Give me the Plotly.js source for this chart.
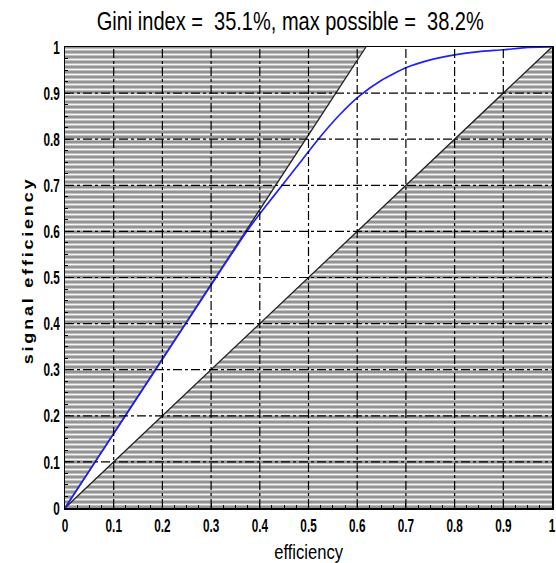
<!DOCTYPE html>
<html>
<head>
<meta charset="utf-8">
<script src="https://cdn.plot.ly/plotly-3.0.1.min.js"></script>
<style>html,body{margin:0;padding:0;background:#fff;}#chart{width:556px;height:563px;}
.ytitle{letter-spacing:2.8px;}
g.g-gtitle,g.g-xtitle,g.g-ytitle,g.xtick,g.ytick{transform-box:fill-box;}
g.g-gtitle{transform-origin:center;transform:scaleX(0.77);}
g.g-xtitle{transform-origin:center;transform:scaleX(0.83);}
g.g-ytitle{transform-origin:center;transform:translate(1px,-7px) scaleX(0.8);}
g.xtick{transform-origin:center;transform:scaleX(0.62);}
g.ytick{transform-origin:right center;transform:scaleX(0.62);}
</style>
</head>
<body>
<div id="chart"></div>
<script>
// ---- data ----
const titleText = "Gini index =  35.1%, max possible =  38.2%";
const tickVals = [0, 0.1, 0.2, 0.3, 0.4, 0.5, 0.6, 0.7, 0.8, 0.9, 1];
const tickText = ["0", "0.1", "0.2", "0.3", "0.4", "0.5", "0.6", "0.7", "0.8", "0.9", "1"];
// best possible curve region (above steep line) and random line region (below diagonal)
const upperRegionX = [0, 0.618, 0, 0];
const upperRegionY = [0, 1, 1, 0];
const lowerRegionX = [0, 1, 1, 0];
const lowerRegionY = [0, 1, 0, 0];
const maxLineX = [0, 0.618];
const maxLineY = [0, 1];
const diagX = [0, 1];
const diagY = [0, 1];
// measured curve
const curveX = [0, 0.062, 0.124, 0.186, 0.248, 0.31, 0.373, 0.41, 0.446, 0.483, 0.52, 0.563, 0.606, 0.65, 0.7, 0.75, 0.8, 0.85, 0.9, 0.95, 1];
const curveY = [0, 0.1, 0.2, 0.3, 0.4, 0.5, 0.6, 0.652, 0.7, 0.75, 0.8, 0.852, 0.895, 0.928, 0.955, 0.972, 0.983, 0.99, 0.994, 0.999, 1.0];

const hatch = {shape: '-', bgcolor: '#939393', fgcolor: '#f6f6f6', size: 5, solidity: 0.38, fillmode: 'replace'};

const traces = [
  {x: upperRegionX, y: upperRegionY, type: 'scatter', mode: 'lines', fill: 'toself',
   fillcolor: '#939393', fillpattern: hatch, line: {width: 0}, hoverinfo: 'skip', showlegend: false},
  {x: lowerRegionX, y: lowerRegionY, type: 'scatter', mode: 'lines', fill: 'toself',
   fillcolor: '#939393', fillpattern: hatch, line: {width: 0}, hoverinfo: 'skip', showlegend: false},
  {x: maxLineX, y: maxLineY, type: 'scatter', mode: 'lines', line: {color: '#222', width: 1.3}, showlegend: false},
  {x: diagX, y: diagY, type: 'scatter', mode: 'lines', line: {color: '#222', width: 1.3}, showlegend: false},
  {x: curveX, y: curveY, type: 'scatter', mode: 'lines', line: {color: '#2020ff', width: 1.7, shape: 'spline', smoothing: 0.5}, showlegend: false}
];

// grid lines drawn above the hatching
const shapes = [];
tickVals.slice(1, -1).forEach(v => {
  shapes.push({type: 'line', xref: 'x', yref: 'paper', x0: v, x1: v, y0: 0, y1: 1, layer: 'above',
               line: {color: '#000', width: 1.2, dash: 'dashdot'}});
  shapes.push({type: 'line', xref: 'paper', yref: 'y', x0: 0, x1: 1, y0: v, y1: v, layer: 'above',
               line: {color: '#000', width: 1.2, dash: 'dashdot'}});
});

const sans = '"Liberation Sans", Arial, Helvetica, sans-serif';
const tickFont = {family: sans, size: 19, color: '#000', weight: 'bold'};

const axisCommon = {
  range: [0, 1], tickvals: tickVals, ticktext: tickText, showgrid: false, zeroline: false,
  showline: true, linecolor: '#000', linewidth: 1.5, mirror: true,
  ticks: 'inside', ticklen: 5, tickcolor: '#000', tickfont: tickFont,
  minor: {dtick: 0.025, ticks: 'inside', ticklen: 3, tickcolor: '#000', showgrid: false},
  fixedrange: true, automargin: false
};

const layout = {
  width: 556, height: 563,
  margin: {l: 65, r: 4, t: 47, b: 55},
  paper_bgcolor: '#fff', plot_bgcolor: '#fff',
  title: {text: titleText, xref: 'container', x: 0.522, xanchor: 'center', y: 0.962, yanchor: 'middle',
          font: {family: sans, size: 26, color: '#000'}},
  xaxis: Object.assign({}, axisCommon, {
    title: {text: 'efficiency', standoff: 10,
            font: {family: sans, size: 20, color: '#000'}}
  }),
  yaxis: Object.assign({}, axisCommon, {
    title: {text: 'signal efficiency', standoff: 5,
            font: {family: sans, size: 18, color: '#000', weight: 'bold'}}
  }),
  shapes: shapes,
  showlegend: false
};

Plotly.newPlot('chart', traces, layout, {displayModeBar: false, staticPlot: true});
</script>
</body>
</html>
